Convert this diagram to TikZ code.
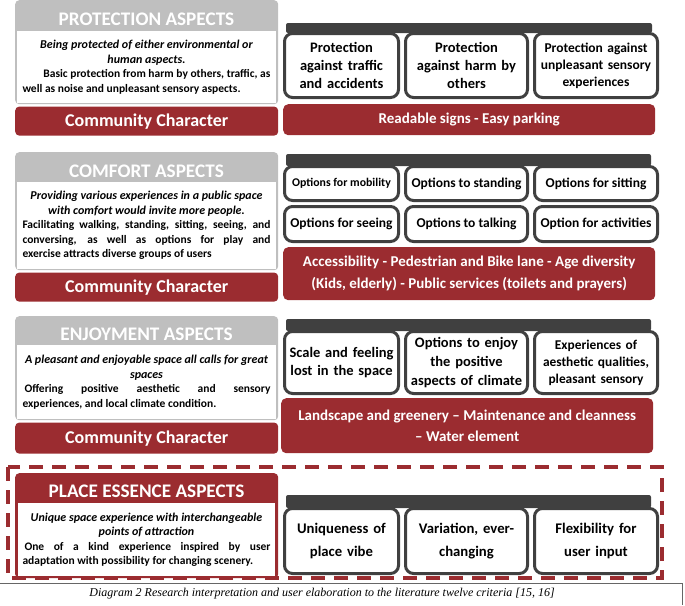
\documentclass[tikz,border=0pt]{standalone}
\usepackage{fontspec}
\setmainfont{Carlito}
\newfontfamily\capfont{Liberation Serif}
\usetikzlibrary{positioning}
\definecolor{hdgrey}{RGB}{191,191,191}
\definecolor{ccred}{RGB}{155,44,48}
\definecolor{dk}{RGB}{64,64,64}
\newcommand\fz[2]{\fontsize{#1}{#2}\selectfont}
\newcommand\itl{\itshape\fz{12}{14.5}}
\setlength\parindent{0pt}

\begin{document}
\begin{tikzpicture}[x=1pt, y=-1pt,
 frame/.style={fill=hdgrey, rounded corners=4pt, minimum width=263pt, inner sep=0pt, anchor=north west},
 hd/.style={text=white, font=\fz{19.2}{22}\bfseries, inner sep=0pt},
 desc/.style={fill=white, minimum width=259pt, text width=248pt, inner sep=0pt, align=justify, anchor=north, font=\fz{11.5}{14.5}\bfseries},
 cc/.style={fill=ccred, rounded corners=4pt, minimum width=263pt, text=white, font=\fz{18}{20}\bfseries, inner sep=0pt},
 opt/.style={draw=dk, line width=3pt, fill=white, rounded corners=8pt, align=center, inner sep=0pt, font=\fz{13.5}{17}\bfseries},
 tbar/.style={fill=dk, rounded corners=2pt},
 rbar/.style={fill=ccred, rounded corners=5pt, text=white, align=center, minimum width=372pt, inner sep=0pt, anchor=north west, font=\fz{15}{21}\bfseries}]
\useasboundingbox (0,0) rectangle (685,605);

\node[frame, minimum height=104pt] (f1) at (15,0) {};
\node[hd] (h1) at (146.5,19) {PROTECTION ASPECTS};
\node[desc, minimum height=72pt] (d1) at (146.5,31)
 {{\centering\itl Being protected of either environmental or\\ human aspects.\par}
 \hspace*{\fill}Basic protection from harm by others, traffic, as\\ well as noise and unpleasant sensory aspects.};
\node[cc, minimum height=29pt, below=2pt of f1] (c1) {Community Character};
\fill[tbar] (286,23) rectangle (652,33);
\node[opt, minimum width=114pt, minimum height=64pt, text width=112pt, font=\fz{14.5}{18}\bfseries, anchor=north west] (a1) at (283,32) {Protection\\ against traffic\\ and accidents};
\node[opt, minimum width=122pt, minimum height=64pt, text width=120pt, font=\fz{14.5}{18}\bfseries, right=4pt of a1] (a2) {Protection\\ against harm by\\ others};
\node[opt, minimum width=123pt, minimum height=64pt, text width=121pt, right=4pt of a2] (a3) {Protection against\\ unpleasant sensory\\ experiences};
\node[rbar, minimum height=31pt] (r1) at (283,104) {Readable signs - Easy parking};

\node[frame, minimum height=118pt] (f2) at (15,152) {};
\node[hd] (h2) at (146.5,171) {COMFORT ASPECTS};
\node[desc, minimum height=87pt] (d2) at (146.5,182)
 {{\centering\itl Providing various experiences in a public space\\ with comfort would invite more people.\par}
 Facilitating walking, standing, sitting, seeing, and\linebreak conversing, as well as options for play and\linebreak exercise attracts diverse groups of users};
\node[cc, minimum height=29pt, below=2pt of f2] (c2) {Community Character};
\fill[tbar] (286,154) rectangle (651,166);
\node[opt, minimum width=114pt, minimum height=34pt, font=\fz{11.8}{15}\bfseries, anchor=north west] (b1) at (283,165) {Options for mobility};
\node[opt, minimum width=122pt, minimum height=34pt, right=4pt of b1] (b2) {Options to standing};
\node[opt, minimum width=123pt, minimum height=34pt, right=4pt of b2] (b3) {Options for sitting};
\node[opt, minimum width=114pt, minimum height=35pt, anchor=north west] (b4) at (283,205) {Options for seeing};
\node[opt, minimum width=122pt, minimum height=35pt, right=4pt of b4] (b5) {Options to talking};
\node[opt, minimum width=123pt, minimum height=35pt, right=4pt of b5] (b6) {Option for activities};
\node[rbar, minimum height=53pt, font=\fz{15}{22}\bfseries] (r2) at (283,247) {Accessibility - Pedestrian and Bike lane - Age diversity\\ (Kids, elderly) - Public services (toilets and prayers)};

\node[frame, minimum height=104pt] (f3) at (15,316) {};
\node[hd] (h3) at (146.5,334.5) {ENJOYMENT ASPECTS};
\node[desc, minimum height=74pt] (d3) at (146.5,345)
 {{\centering\itl A pleasant and enjoyable space all calls for great\\ spaces\par}
 \hspace*{2pt}Offering positive aesthetic and sensory\linebreak experiences, and local climate condition.};
\node[cc, minimum height=31pt, below=2pt of f3] (c3) {Community Character};
\fill[tbar] (286,319) rectangle (651,331);
\node[opt, minimum width=114pt, minimum height=62pt, text width=112pt, font=\fz{14.5}{18}\bfseries, anchor=north west] (e1) at (283,330) {Scale and feeling\\ lost in the space};
\node[opt, minimum width=122pt, minimum height=62pt, text width=120pt, font=\fz{14.5}{19}\bfseries, right=4pt of e1] (e2) {Options to enjoy\\ the positive\\ aspects of climate};
\node[opt, minimum width=123pt, minimum height=62pt, text width=121pt, font=\fz{13.4}{17}\bfseries, right=4pt of e2] (e3) {Experiences of\\ aesthetic qualities,\\ pleasant sensory};
\node[rbar, minimum height=55pt] (r3) at (281,398) {Landscape and greenery -- Maintenance and cleanness\\ -- Water element};

\draw[ccred, line width=3.5pt, dash pattern=on 14pt off 9pt] (8,467) rectangle (662,578);
\node[frame, fill=ccred, minimum height=105pt] (f4) at (15,473) {};
\node[hd] (h4) at (146.5,491) {PLACE ESSENCE ASPECTS};
\node[desc, minimum width=257pt, minimum height=73pt] (d4) at (146.5,503)
 {{\centering\itl Unique space experience with interchangeable\\ points of attraction\par}
 \hspace*{2pt}One of a kind experience inspired by user\linebreak adaptation with possibility for changing scenery.};
\fill[tbar] (286,495) rectangle (651,508);
\node[opt, minimum width=114pt, minimum height=65pt, text width=112pt, font=\fz{14.7}{23}\bfseries, anchor=north west] (g1) at (283,507) {Uniqueness of\\ place vibe};
\node[opt, minimum width=122pt, minimum height=65pt, text width=120pt, font=\fz{14.7}{23}\bfseries, right=4pt of g1] (g2) {Variation, ever-\\ changing};
\node[opt, minimum width=123pt, minimum height=65pt, text width=121pt, font=\fz{14.7}{23}\bfseries, right=4pt of g2] (g3) {Flexibility for\\ user input};

\draw[black!60, line width=0.6pt] (0,583) -| (682,605);
\node[font=\capfont\itshape\fz{12}{14}] (cap) at (322,594) {Diagram 2 Research interpretation and user elaboration to the literature twelve criteria [15, 16]};
\end{tikzpicture}
\end{document}
